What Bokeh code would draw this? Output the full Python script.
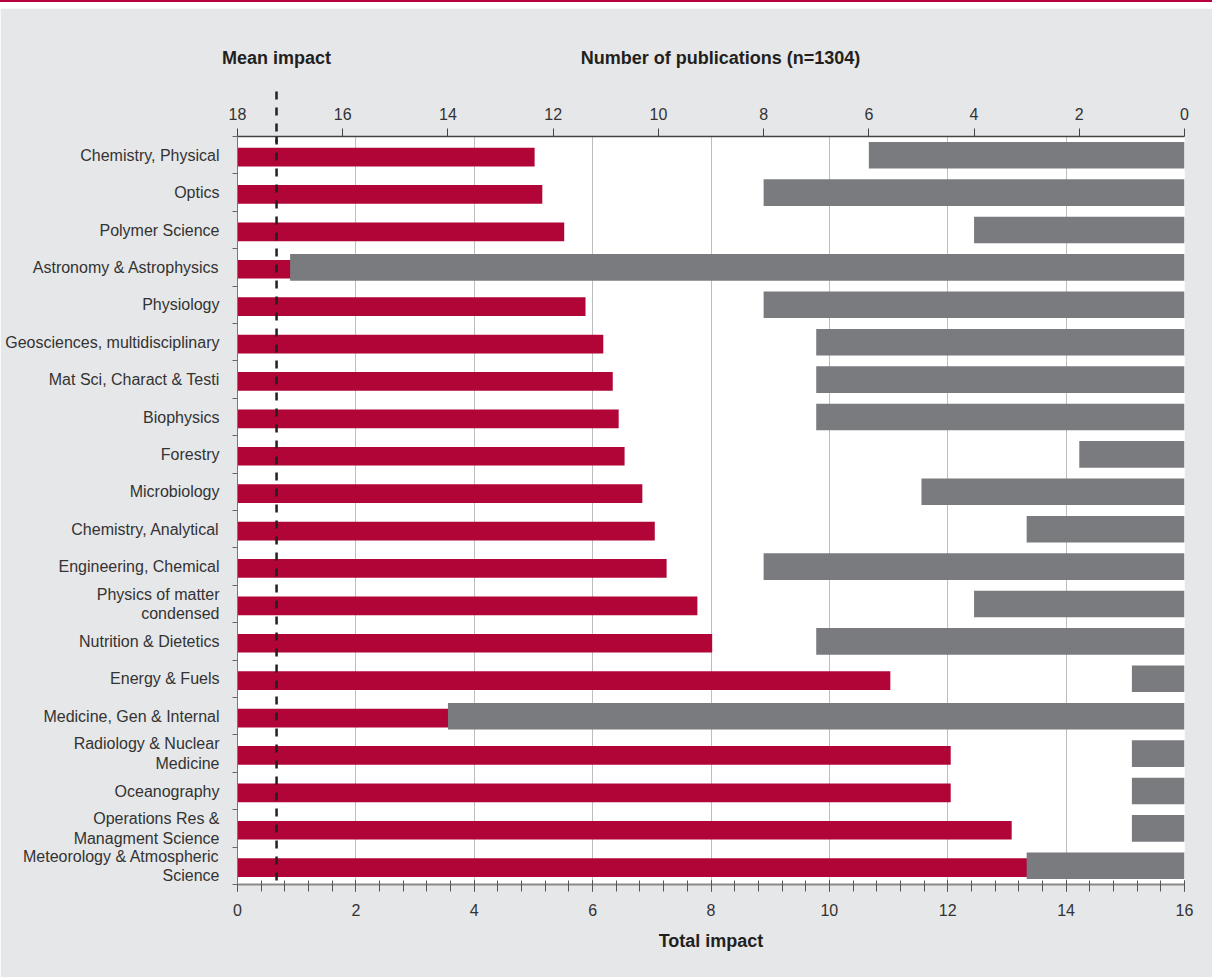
from bokeh.plotting import figure
from bokeh.models import (Range1d, LinearAxis, FixedTicker, SingleIntervalTicker,
                          Span, ColumnDataSource, Div)
from bokeh.layouts import column
from bokeh.embed import file_html
from bokeh.resources import INLINE

# ---------------- data ----------------
categories = [
    "Chemistry, Physical", "Optics", "Polymer Science", "Astronomy & Astrophysics",
    "Physiology", "Geosciences, multidisciplinary", "Mat Sci, Charact & Testi",
    "Biophysics", "Forestry", "Microbiology", "Chemistry, Analytical",
    "Engineering, Chemical", "Physics of matter\ncondensed", "Nutrition & Dietetics",
    "Energy & Fuels", "Medicine, Gen & Internal", "Radiology & Nuclear\nMedicine",
    "Oceanography", "Operations Res &\nManagment Science",
    "Meteorology & Atmospheric\nScience",
]
total_impact = [5.02, 5.15, 5.52, 5.70, 5.88, 6.18, 6.34, 6.44, 6.54, 6.84,
                7.05, 7.25, 7.77, 8.02, 11.03, 11.34, 12.05, 12.05, 13.08, 13.74]
publications = [6, 8, 4, 17, 8, 7, 7, 7, 2, 5, 3, 8, 4, 7, 1, 14, 1, 1, 1, 3]
mean_impact = 0.66
impact_ticks = [0, 2, 4, 6, 8, 10, 12, 14, 16]
pub_ticks = [0, 2, 4, 6, 8, 10, 12, 14, 16, 18]
pub_title = "Number of publications (n=1304)"
pub_title_pos = 8.16      # horizontal centre of that heading, in impact units

# ---------------- styles ----------------
FONT = "Liberation Sans"
BG = "#e6e7e9"
RED = "#b10437"
GREY = "#7a7b7f"
TXT = "#333333"
DARK = "#231f20"

n = len(categories)
rows = list(range(n))
src_red = ColumnDataSource(dict(y=[r + 0.55 for r in rows], right=total_impact))
src_grey = ColumnDataSource(dict(y=[r + 0.5 for r in rows], left=publications))

p = figure(width=1212, height=969, output_backend="svg", toolbar_location=None,
           x_range=Range1d(0, 16), y_range=Range1d(n, 0),
           min_border_left=237, min_border_right=28, min_border_top=128,
           min_border_bottom=93, background_fill_color="white",
           border_fill_color=BG, outline_line_color=None)
p.extra_x_ranges = {"pubs": Range1d(18, 0)}

# grid
xt = SingleIntervalTicker(interval=2, num_minor_ticks=5)
p.xgrid.ticker = xt
p.xgrid.grid_line_color = "#bdbdbd"
p.xgrid.grid_line_width = 1
p.ygrid.visible = False

# bars
p.hbar(y="y", left=0, right="right", height=0.5, source=src_red,
       fill_color=RED, line_color=None)
p.hbar(y="y", left="left", right=0, height=0.71, source=src_grey,
       fill_color=GREY, line_color=None, x_range_name="pubs")

# mean impact dashed line inside the frame
p.add_layout(Span(location=mean_impact, dimension="height", line_color=DARK,
                  line_width=2.5, line_dash="8 8"))

# bottom axis
bx = p.below[0]
bx.ticker = xt
bx.axis_label = "Total impact"
bx.axis_label_text_font = FONT
bx.axis_label_text_font_style = "bold"
bx.axis_label_text_font_size = "18px"
bx.axis_label_text_color = DARK
bx.axis_label_standoff = 12
bx.major_label_text_font = FONT
bx.major_label_text_font_size = "16px"
bx.major_label_text_color = TXT
bx.major_label_standoff = 12
bx.axis_line_color = "#8a8a8a"
bx.axis_line_width = 2
bx.major_tick_in = 4
bx.major_tick_out = 7
bx.minor_tick_in = 4
bx.minor_tick_out = 7
bx.major_tick_line_color = "#333333"
bx.minor_tick_line_color = "#555555"

# top axis (number of publications, reversed)
top = LinearAxis(x_range_name="pubs",
                 ticker=FixedTicker(ticks=pub_ticks, minor_ticks=[]))
top.major_label_text_font = FONT
top.major_label_text_font_size = "16px"
top.major_label_text_color = TXT
top.major_label_standoff = 9
top.major_tick_in = 0
top.major_tick_out = 8
top.minor_tick_in = 0
top.minor_tick_out = 0
top.axis_line_color = "#444444"
top.axis_line_width = 1.5
top.major_tick_line_color = "#444444"
p.add_layout(top, "above")

# headings row: labels placed on the impact scale; the dashed mean line is
# continued above the frame by a minor tick at the mean
heads = LinearAxis(ticker=FixedTicker(ticks=[mean_impact, pub_title_pos],
                                      minor_ticks=[mean_impact]))
heads.major_label_overrides = {mean_impact: "Mean impact", pub_title_pos: pub_title}
heads.major_label_text_font = FONT
heads.major_label_text_font_style = "bold"
heads.major_label_text_font_size = "18px"
heads.major_label_text_color = DARK
heads.major_label_standoff = 24
heads.axis_line_color = None
heads.major_tick_line_color = None
heads.major_tick_in = 0
heads.major_tick_out = 0
heads.minor_tick_in = 38
heads.minor_tick_out = 13
heads.minor_tick_line_color = DARK
heads.minor_tick_line_width = 2.5
heads.minor_tick_line_dash = "8 8"
p.add_layout(heads, "above")

# left axis: labels at row centres, ticks at row boundaries
ly = p.left[0]
centers = [r + 0.5 for r in rows]
ly.ticker = FixedTicker(ticks=centers, minor_ticks=list(range(n + 1)))
ly.major_label_overrides = {c: lab for c, lab in zip(centers, categories)}
ly.major_label_text_font = FONT
ly.major_label_text_font_size = "16px"
ly.major_label_text_color = TXT
ly.major_label_text_line_height = 1.15
ly.major_label_standoff = 13
ly.major_tick_in = 0
ly.major_tick_out = 0
ly.minor_tick_in = 0
ly.minor_tick_out = 5
ly.minor_tick_line_color = "#666666"
ly.axis_line_color = "#777777"

strip = Div(text="", width=1212, height=8, margin=0,
            styles={"background-color": "white", "border-top": "2px solid #b8003c",
                    "box-sizing": "border-box", "width": "1212px", "height": "8px"})

layout = column(strip, p, spacing=0)
open("out.html", "w").write(file_html(layout, INLINE, title="Impact by category"))
